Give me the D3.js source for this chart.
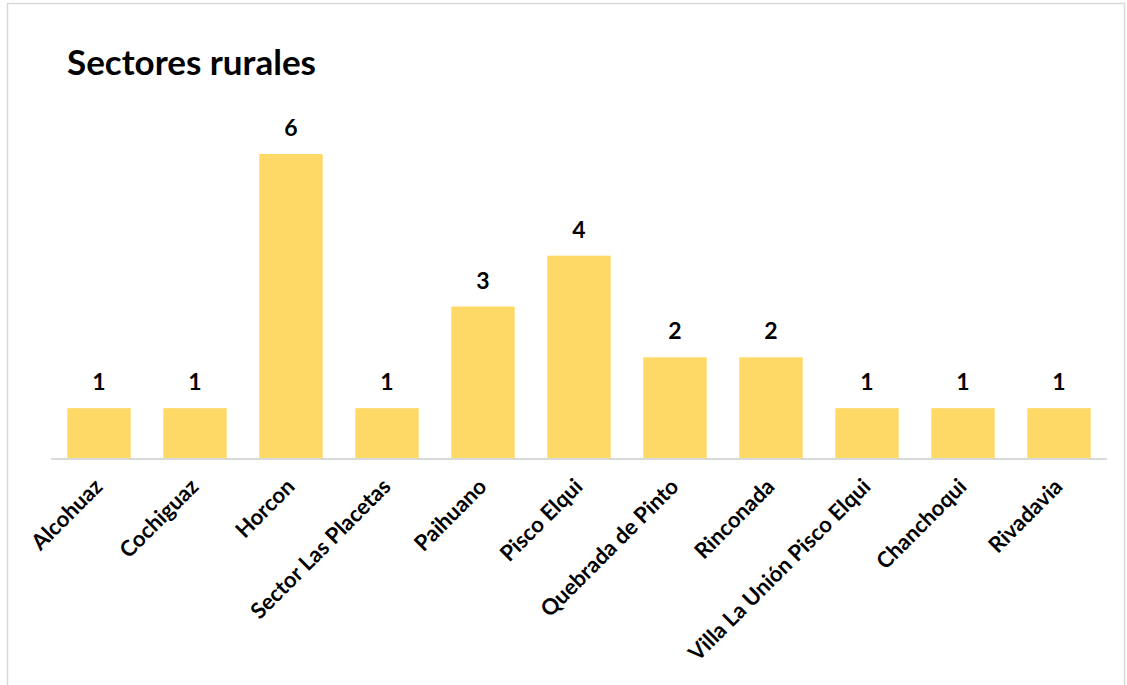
<!DOCTYPE html>
<html><head><meta charset="utf-8">
<script src="https://cdn.jsdelivr.net/npm/d3@7"></script>
<style>body{margin:0;background:#fff;} text{font-family:Lato,"Open Sans",sans-serif;}</style>
</head><body>
<svg id="c" width="1127" height="685"></svg>
<script>
const categories = ["Alcohuaz","Cochiguaz","Horcon","Sector Las Placetas","Paihuano","Pisco Elqui","Quebrada de Pinto","Rinconada","Villa La Unión Pisco Elqui","Chanchoqui","Rivadavia"];
const values = [1,1,6,1,3,4,2,2,1,1,1];
const title = "Sectores rurales";

const svg = d3.select("#c");
svg.append("rect").attr("x",7.5).attr("y",3.5).attr("width",1117).attr("height",700)
  .attr("fill","#fff").attr("stroke","#d9d9d9").attr("stroke-width",1.5);

const x = d3.scaleBand().domain(categories).range([51,1107]).paddingInner(0.34).paddingOuter(0.17);
const y = d3.scaleLinear().domain([0,6]).range([459,154]);

svg.append("text").attr("x",67).attr("y",75).attr("font-size",35).attr("font-weight","bold")
  .attr("fill","#000").text(title);

svg.selectAll("rect.bar").data(categories).join("rect").attr("class","bar")
  .attr("x",d=>x(d)).attr("width",x.bandwidth())
  .attr("y",(d,i)=>y(values[i])).attr("height",(d,i)=>y(0)-y(values[i]))
  .attr("fill","#FFD966");

svg.selectAll("text.val").data(categories).join("text").attr("class","val")
  .attr("x",d=>x(d)+x.bandwidth()/2).attr("y",(d,i)=>y(values[i])-18)
  .attr("text-anchor","middle").attr("font-size",23).attr("font-weight","bold").attr("fill","#000")
  .text((d,i)=>values[i]);

const ax = svg.append("g").attr("transform","translate(0,459)")
  .call(d3.axisBottom(x).tickSize(0).tickPadding(0));
ax.select(".domain").attr("stroke","#d9d9d9").attr("stroke-width",2).attr("d","M51,0H1107");
ax.selectAll(".tick text").attr("font-size",22).attr("font-weight","bold").attr("fill","#000")
  .attr("font-family","Lato,sans-serif")
  .attr("text-anchor","end").attr("dy",null).attr("y",0)
  .attr("transform","translate(5,29) rotate(-45)");
</script>
</body></html>
